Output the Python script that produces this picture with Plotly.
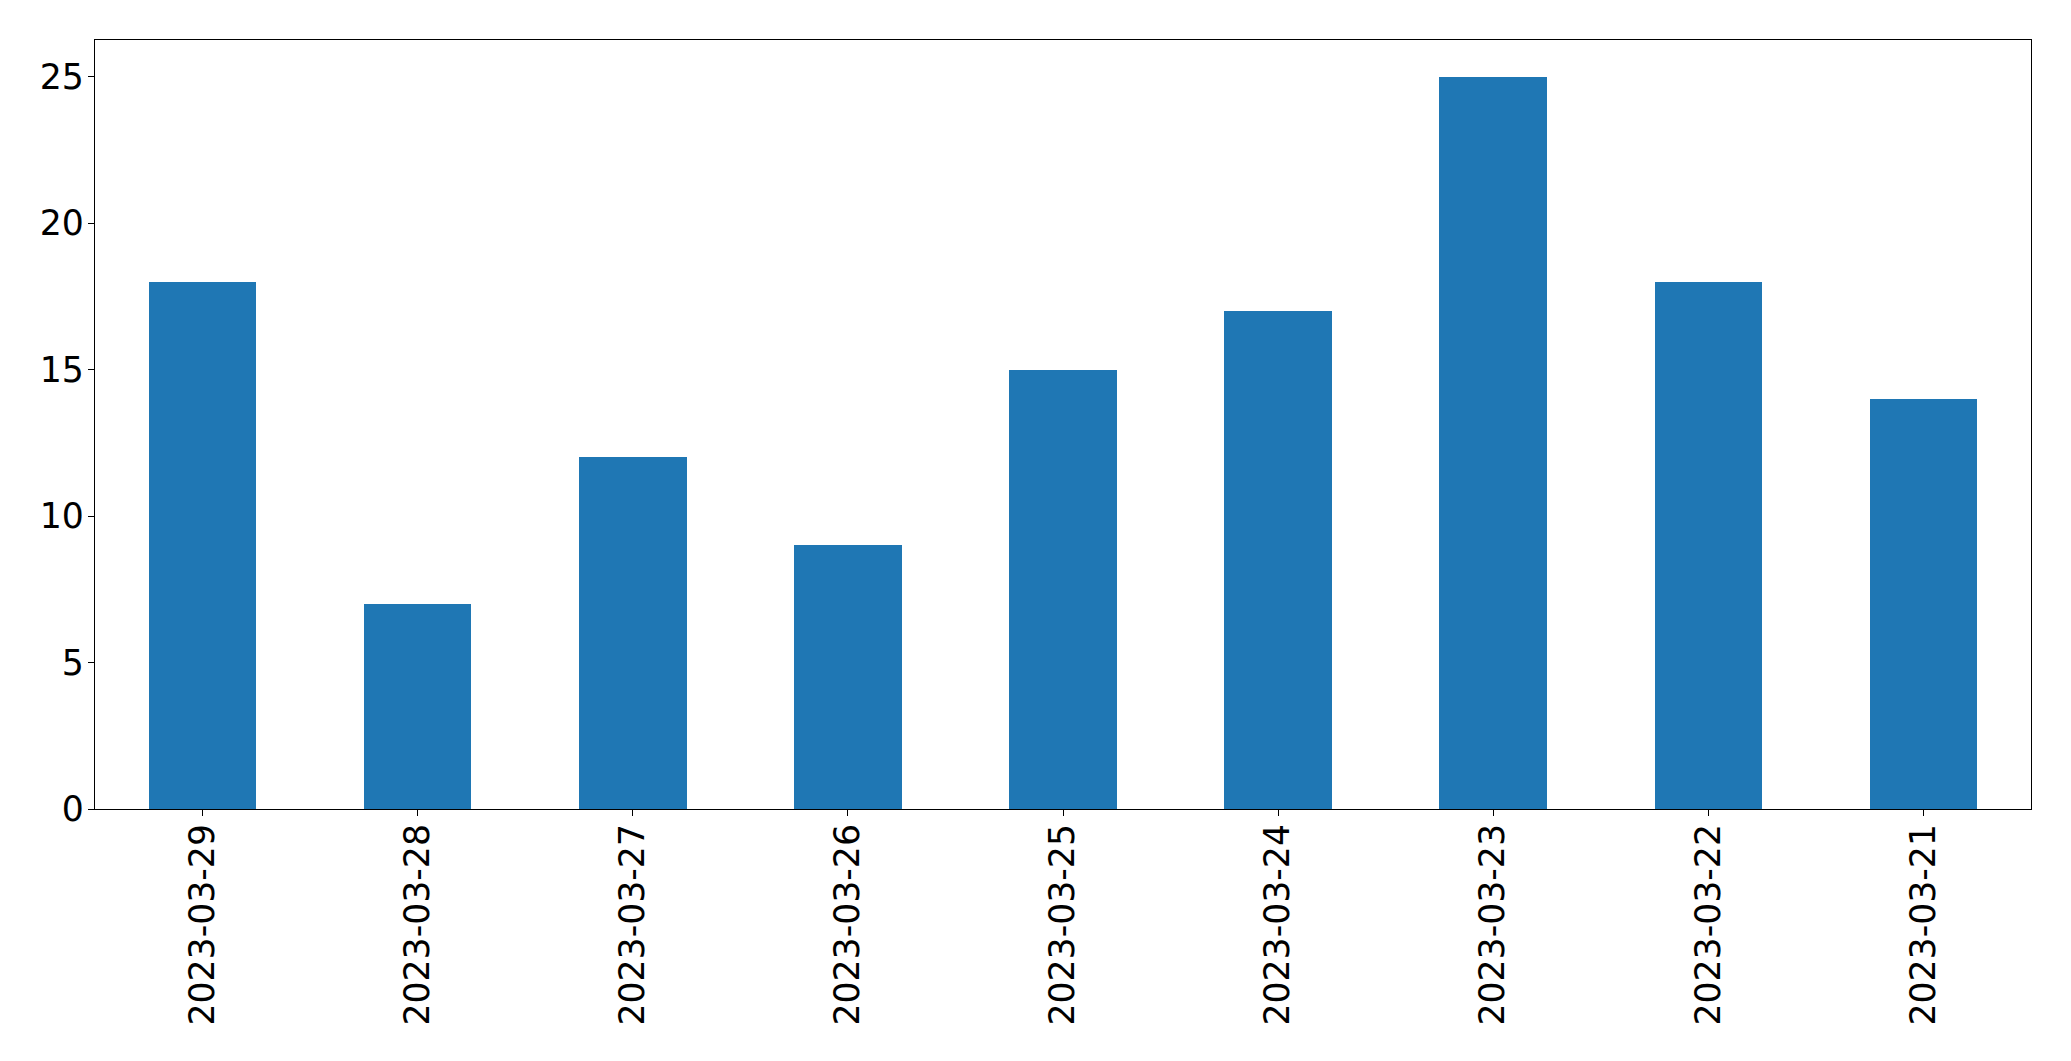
import plotly.graph_objects as go

dates = ["2023-03-29", "2023-03-28", "2023-03-27", "2023-03-26", "2023-03-25",
         "2023-03-24", "2023-03-23", "2023-03-22", "2023-03-21"]
counts = [18, 7, 12, 9, 15, 17, 25, 18, 14]
y_ticks = [0, 5, 10, 15, 20, 25]

fig = go.Figure(go.Bar(x=dates, y=counts, width=0.5, marker=dict(color="#1f77b4", line=dict(width=0))))

axis_common = dict(showline=True, linecolor="black", linewidth=1.3, mirror=True,
                   ticks="outside", ticklen=6, tickwidth=1.3, tickcolor="black",
                   showgrid=False, zeroline=False,
                   tickfont=dict(family="DejaVu Sans", size=34.7, color="black"))

fig.update_xaxes(type="category", range=[-0.5, 8.5], tickangle=-90,
                 ticklabelstandoff=-6, **axis_common)
fig.update_yaxes(range=[0, 26.25], tickvals=y_ticks, ticklabelstandoff=-3, **axis_common)

fig.update_layout(width=2055, height=1045,
                  margin=dict(l=87, r=32, t=32, b=244),
                  plot_bgcolor="white", paper_bgcolor="white",
                  showlegend=False, bargap=0)

fig.write_html("out.html")
